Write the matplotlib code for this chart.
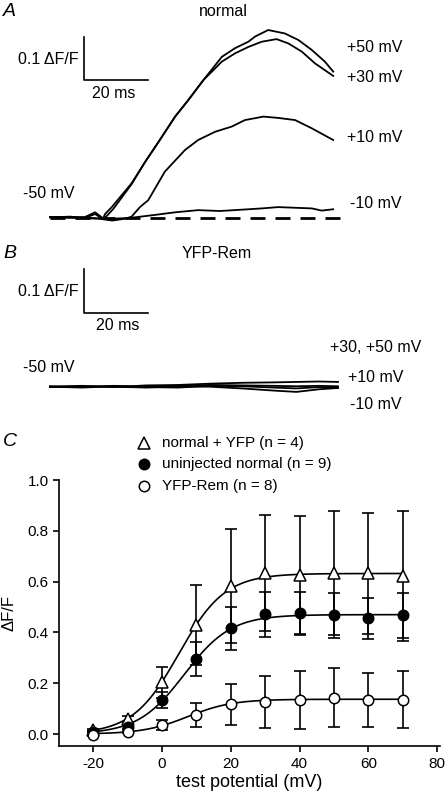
import numpy as np
import matplotlib
matplotlib.use("Agg")
import matplotlib.pyplot as plt

plt.rcParams['font.family'] = ['Liberation Sans', 'DejaVu Sans']
plt.rcParams['axes.unicode_minus'] = False

W, H = 448, 796

# ---------------- Panel A traces (time in ms, dF/F) ----------------
a_t_p50 = [0, 6.25, 10.9, 14.1, 16.6, 17.2, 19.3, 25.5, 29.7, 34.4, 39.1, 43.2, 47.9,
           53.7, 57.8, 62.0, 64.1, 68.2, 73.4, 77.6, 81.8, 85.9, 88.5]
a_v_p50 = [0.001, 0.0, 0.001, 0.012, -0.002, 0.008, 0.024, 0.079, 0.128, 0.180, 0.233,
           0.271, 0.317, 0.371, 0.391, 0.406, 0.418, 0.433, 0.425, 0.410, 0.387, 0.360, 0.337]
a_t_p30 = [0, 6.25, 10.9, 14.1, 16.6, 17.8, 19.8, 25.5, 29.7, 34.4, 39.1, 43.2, 47.9,
           53.7, 57.8, 62.0, 66.2, 70.8, 74.5, 78.7, 82.8, 88.5]
a_v_p30 = [0.0, 0.002, -0.001, 0.008, -0.004, 0.004, 0.020, 0.077, 0.128, 0.180, 0.233,
           0.271, 0.317, 0.360, 0.379, 0.394, 0.406, 0.412, 0.402, 0.383, 0.356, 0.327]
a_t_p10 = [0, 9.4, 15.6, 19.4, 23.4, 25.5, 28.1, 30.7, 35.9, 42.2, 46.3, 51.6, 56.8,
           60.9, 66.7, 71.3, 76.6, 81.8, 88.5]
a_v_p10 = [0.001, -0.001, -0.003, -0.007, -0.003, 0.002, 0.024, 0.040, 0.106, 0.156,
           0.179, 0.198, 0.210, 0.225, 0.233, 0.230, 0.225, 0.206, 0.179]
a_t_m10 = [0, 9.4, 18.8, 25.0, 32.8, 39.1, 46.3, 53.1, 62.0, 66.2, 71.3, 81.8, 84.9, 88.5]
a_v_m10 = [0.001, 0.0, -0.003, -0.001, 0.006, 0.012, 0.017, 0.015, 0.019, 0.021, 0.024,
           0.021, 0.016, 0.019]
a_labels = ["+50 mV", "+30 mV", "+10 mV", "-10 mV"]

# ---------------- Panel B traces ----------------
b_t = [0, 10, 20, 30, 40, 50, 60, 70, 77, 84, 90]
b_v_1 = [0.0, 0.002, -0.001, 0.003, 0.004, 0.007, 0.009, 0.010, 0.011, 0.012, 0.011]
b_v_2 = [0.001, -0.001, 0.002, 0.0, 0.002, 0.004, 0.003, 0.002, 0.001, 0.002, 0.001]
b_v_3 = [-0.001, 0.001, 0.0, -0.002, 0.001, 0.0, -0.004, -0.009, -0.012, -0.006, -0.003]
b_v_4 = [0.0, -0.002, 0.001, -0.001, -0.002, 0.002, 0.001, -0.002, -0.004, -0.001, -0.002]
b_labels = ["+30, +50 mV", "+10 mV", "-10 mV"]

# ---------------- Panel C data ----------------
V = [-20, -10, 0, 10, 20, 30, 40, 50, 60, 70]
yfp_mean = [0.016, 0.058, 0.203, 0.429, 0.583, 0.633, 0.626, 0.635, 0.633, 0.623]
yfp_err = [0.005, 0.012, 0.062, 0.158, 0.224, 0.229, 0.234, 0.244, 0.238, 0.256]
uni_mean = [0.009, 0.029, 0.134, 0.294, 0.416, 0.471, 0.475, 0.468, 0.455, 0.468]
uni_err = [0.004, 0.010, 0.030, 0.067, 0.085, 0.089, 0.085, 0.088, 0.082, 0.088]
rem_mean = [-0.004, 0.009, 0.035, 0.075, 0.118, 0.127, 0.134, 0.143, 0.134, 0.136]
rem_err = [0.004, 0.005, 0.020, 0.048, 0.081, 0.103, 0.114, 0.116, 0.105, 0.113]
# Boltzmann fit parameters (Fmax, V1/2, k)
fit_yfp = (0.632, 4.9, 6.7)
fit_uni = (0.470, 6.5, 6.75)
fit_rem = (0.137, 7.5, 6.5)
legend_labels = ["normal + YFP (n = 4)", "uninjected normal (n = 9)", "YFP-Rem (n = 8)"]

fig = plt.figure(figsize=(W / 100, H / 100), dpi=100)


def ftext(x, y, s, **kw):
    kw.setdefault('fontsize', 11.5)
    kw.setdefault('va', 'center')
    fig.text(x / W, 1 - y / H, s, **kw)


trace_kw = dict(color='black', lw=1.3)

# ---------- Panel A ----------
axA = fig.add_axes([0, 1 - 230 / H, 1, 230 / H])
axA.set_axis_off()
axA.set_xlim(-50 / 3.2, (W - 50) / 3.2)
axA.set_ylim((217.5 - 230) / 433, 217.5 / 433)
axA.plot([0, 90.6], [-0.002, -0.002], color='black', lw=2, ls=(0, (5.4, 3.6)))
for t, v in [(a_t_m10, a_v_m10), (a_t_p10, a_v_p10), (a_t_p30, a_v_p30), (a_t_p50, a_v_p50)]:
    axA.plot(t, v, **trace_kw)
axA.plot([10.7, 10.7, 30.7], [0.4176, 0.3176, 0.3176], color='black', lw=1.2)

ftext(3, 12, "A", fontsize=14, style='italic', ha='left')
ftext(223, 11, "normal", ha='center')
ftext(79, 60, "0.1 ΔF/F", ha='right')
ftext(114, 94, "20 ms", ha='center')
ftext(347, 48, a_labels[0], ha='left')
ftext(347, 77, a_labels[1], ha='left')
ftext(347, 138, a_labels[2], ha='left')
ftext(350, 204, a_labels[3], ha='left')
ftext(23, 193, "-50 mV", ha='left')

# ---------- Panel B ----------
axB = fig.add_axes([0, 1 - 430 / H, 1, 200 / H])
axB.set_axis_off()
axB.set_xlim(-50 / 3.2, (W - 50) / 3.2)
axB.set_ylim((386.7 - 430) / 433, (386.7 - 230) / 433)
for v in [b_v_1, b_v_2, b_v_3, b_v_4]:
    axB.plot(b_t, v, **trace_kw)
axB.plot([10.7, 10.7, 30.7], [0.2707, 0.1709, 0.1709], color='black', lw=1.2)

ftext(3, 254, "B", fontsize=14, style='italic', ha='left')
ftext(217, 253, "YFP-Rem", ha='center')
ftext(79, 292, "0.1 ΔF/F", ha='right')
ftext(118, 325, "20 ms", ha='center')
ftext(330, 347, b_labels[0], ha='left')
ftext(348, 377, b_labels[1], ha='left')
ftext(350, 405, b_labels[2], ha='left')
ftext(23, 367, "-50 mV", ha='left')

# ---------- Panel C ----------
axC = fig.add_axes([58.7 / W, 1 - 746 / H, (440 - 58.7) / W, (746 - 480) / H])
axC.set_xlim(-30, 80.8)
axC.set_ylim(-0.047, 1.0)
for s in ['top', 'right']:
    axC.spines[s].set_visible(False)
for s in ['left', 'bottom']:
    axC.spines[s].set_linewidth(1.2)
axC.set_xticks([-20, 0, 20, 40, 60, 80])
axC.set_yticks([0.0, 0.2, 0.4, 0.6, 0.8, 1.0])
axC.set_yticklabels([f"{v:.1f}" for v in [0.0, 0.2, 0.4, 0.6, 0.8, 1.0]])
axC.tick_params(direction='out', length=4, width=1.2, labelsize=11)
axC.tick_params(axis='x', pad=4)
axC.tick_params(axis='y', pad=3)
axC.set_xlabel("test potential (mV)", fontsize=13, labelpad=2)
axC.set_ylabel("ΔF/F", fontsize=12, labelpad=8)

vv = np.linspace(-20, 70, 300)
for (fmax, vh, k) in [fit_yfp, fit_uni, fit_rem]:
    axC.plot(vv, fmax / (1 + np.exp((vh - vv) / k)), color='black', lw=1.2, zorder=2)

eb_kw = dict(fmt='none', ecolor='black', elinewidth=1.2, capsize=4.5, capthick=1.2, zorder=3)
axC.errorbar(V, yfp_mean, yerr=yfp_err, **eb_kw)
axC.errorbar(V, uni_mean, yerr=uni_err, **eb_kw)
axC.errorbar(V, rem_mean, yerr=rem_err, **eb_kw)
axC.plot(V, yfp_mean, ls='none', marker='^', ms=8.5, mfc='white', mec='black', mew=1.1, zorder=4)
axC.plot(V, uni_mean, ls='none', marker='o', ms=7.5, mfc='black', mec='black', mew=1.1, zorder=4)
axC.plot(V, rem_mean, ls='none', marker='o', ms=7.5, mfc='white', mec='black', mew=1.1, zorder=4)

ftext(3, 442, "C", fontsize=14, style='italic', ha='left')
leg_markers = [('^', 'white', 443), ('o', 'black', 464), ('o', 'white', 486)]
for (m, fc, y), lab in zip(leg_markers, legend_labels):
    fig.add_artist(plt.Line2D([144 / W], [1 - y / H], marker=m, ms=8 if m == '^' else 7.5,
                              mfc=fc, mec='black', mew=1.1, ls='none',
                              transform=fig.transFigure))
    ftext(162, y, lab, ha='left', fontsize=11)

fig.savefig("out.png", dpi=100)
